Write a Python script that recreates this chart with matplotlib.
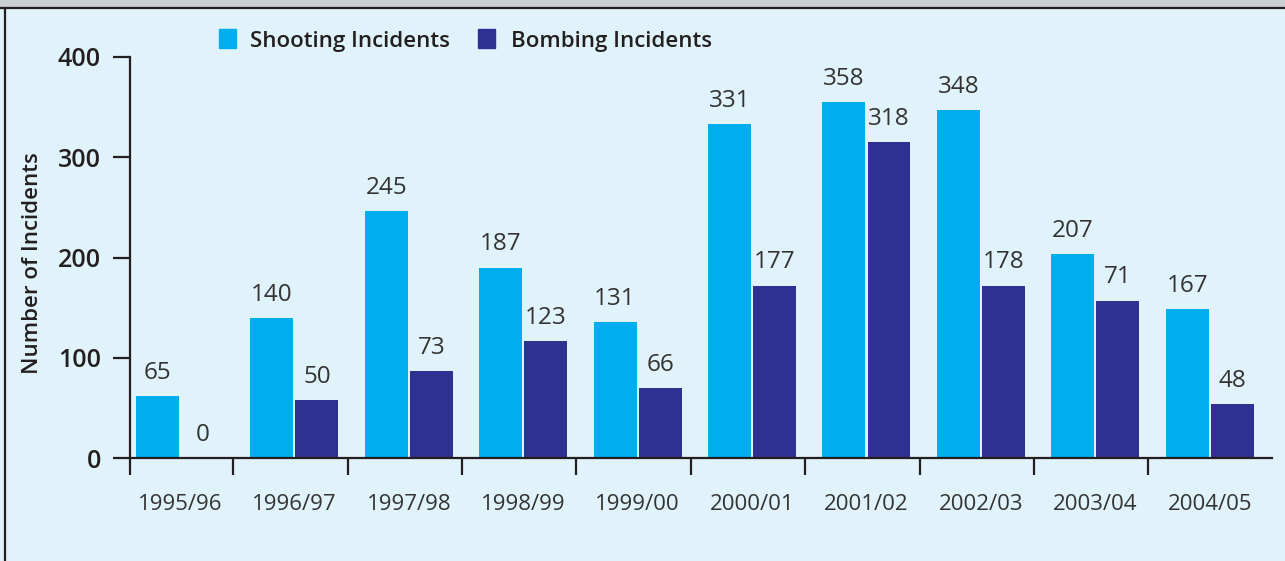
import matplotlib.pyplot as plt
import numpy as np
from matplotlib.patches import Rectangle
from matplotlib.lines import Line2D

plt.rcParams['font.family'] = ['Open Sans', 'DejaVu Sans']

years = ['1995/96', '1996/97', '1997/98', '1998/99', '1999/00',
         '2000/01', '2001/02', '2002/03', '2003/04', '2004/05']
# printed value labels
shooting_labels = [65, 140, 245, 187, 131, 331, 358, 348, 207, 167]
bombing_labels = [0, 50, 73, 123, 66, 177, 318, 178, 71, 48]
# bar heights as they are drawn in the picture (not always the printed value)
shooting_bars = [62, 140, 246, 190, 136, 333, 355, 347, 203, 149]
bombing_bars = [0, 58, 87, 117, 70, 172, 315, 172, 157, 54]

bg = '#e1f3fa'
cyan = '#00aeef'
navy = '#2e3192'
ink = '#231f20'

W, H = 1285, 561
fig = plt.figure(figsize=(W / 100, H / 100), dpi=100, facecolor=bg)
ax = fig.add_axes([130 / W, 103 / H, 1142 / W, 401 / H])
ax.set_facecolor(bg)

x = np.arange(len(years))
bw = 0.375
off = 0.197
ax.bar(x - off, shooting_bars, bw, color=cyan, zorder=2)
ax.bar(x + off, bombing_bars, bw, color=navy, zorder=2)

for xi, h, v in zip(x - off, shooting_bars, shooting_labels):
    ax.annotate(str(v), (xi, h), xytext=(0, 8), textcoords='offset points',
                ha='center', va='bottom', fontsize=17.5, color='#333333')
for xi, h, v in zip(x + off, bombing_bars, bombing_labels):
    ax.annotate(str(v), (xi, h), xytext=(0, 8), textcoords='offset points',
                ha='center', va='bottom', fontsize=17.5, color='#333333')

ax.set_xlim(-0.437, 9.545)
ax.set_ylim(0, 400)

for s in ['top', 'right']:
    ax.spines[s].set_visible(False)
for s in ['left', 'bottom']:
    ax.spines[s].set_color(ink)
    ax.spines[s].set_linewidth(1.6)

ax.set_yticks([0, 100, 200, 300, 400])
ax.tick_params(axis='y', length=12, width=1.6, color=ink, pad=9,
               labelsize=18, labelcolor=ink)
for t in ax.get_yticklabels():
    t.set_fontweight('semibold')

ax.set_xticks(x)
ax.set_xticklabels(years)
ax.tick_params(axis='x', which='major', length=0, pad=26, labelsize=16,
               labelcolor='#333333')
ax.set_xticks([-0.437] + [i + 0.465 for i in range(9)], minor=True)
ax.tick_params(axis='x', which='minor', length=12, width=1.6, color=ink)

fig.text(33 / W, 1 - 263 / H, 'Number of Incidents', rotation=90,
         ha='center', va='center', fontsize=16, fontweight='semibold', color=ink)

# legend
fig.add_artist(Rectangle((219 / W, 1 - 48 / H), 17 / W, 19 / H,
                         transform=fig.transFigure, color=cyan))
fig.text(250 / W, 1 - 47.5 / H, 'Shooting Incidents', ha='left', va='baseline',
         fontsize=16, fontweight='semibold', color=ink)
fig.add_artist(Rectangle((478 / W, 1 - 48 / H), 17 / W, 19 / H,
                         transform=fig.transFigure, color=navy))
fig.text(511 / W, 1 - 47.5 / H, 'Bombing Incidents', ha='left', va='baseline',
         fontsize=16, fontweight='semibold', color=ink)

# frame: grey band at top and dark rules
fig.add_artist(Rectangle((0, 1 - 7 / H), 1, 7 / H, transform=fig.transFigure,
                         color='#cbd0d4'))
fig.add_artist(Line2D([0, 1], [1 - 8 / H, 1 - 8 / H], transform=fig.transFigure,
                      color=ink, lw=1.6))
fig.add_artist(Line2D([5 / W, 5 / W], [0, 1 - 8 / H], transform=fig.transFigure,
                      color=ink, lw=1.6))

fig.savefig('out.png', dpi=100, facecolor=bg)
